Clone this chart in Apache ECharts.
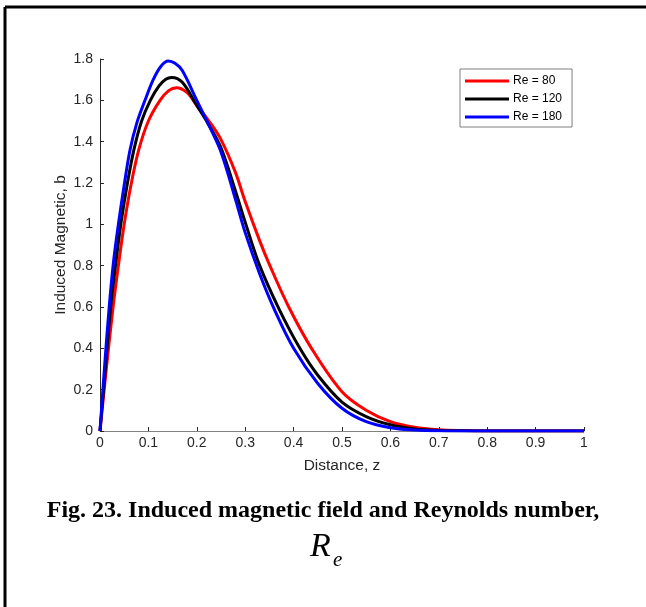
<!DOCTYPE html>
<html><head><meta charset="utf-8">
<script src="https://cdn.jsdelivr.net/npm/echarts@6/dist/echarts.min.js"></script>
<style>html,body{margin:0;padding:0;background:#fff;}#c{width:646px;height:607px;}</style>
</head><body><div id="c"></div>
<script>
const seriesNames = ['Re = 80', 'Re = 120', 'Re = 180'];
const seriesColors = ['#ff0000', '#000000', '#0000ff'];

const zRe80 = [0, 0.013, 0.027, 0.038, 0.05, 0.064, 0.08, 0.1, 0.124, 0.142, 0.158, 0.18, 0.2, 0.225, 0.25, 0.28, 0.3, 0.33, 0.351, 0.39, 0.437, 0.5, 0.55, 0.6, 0.65, 0.7, 0.75, 0.8, 0.9, 1];
const bRe80 = [0, 0.3, 0.6, 0.8, 1.0, 1.19, 1.36, 1.5, 1.6, 1.647, 1.661, 1.637, 1.575, 1.5, 1.41, 1.25, 1.11, 0.92, 0.8, 0.6, 0.4, 0.19, 0.1, 0.045, 0.018, 0.006, 0.002, 0.0005, 0, 0];

const zRe120 = [0, 0.011, 0.022, 0.032, 0.043, 0.056, 0.07, 0.086, 0.104, 0.122, 0.136, 0.148, 0.17, 0.2, 0.225, 0.25, 0.28, 0.3, 0.33, 0.37, 0.413, 0.45, 0.5, 0.55, 0.6, 0.65, 0.7, 0.75, 0.8, 0.9, 1];
const bRe120 = [0, 0.3, 0.6, 0.8, 1.0, 1.19, 1.36, 1.5, 1.6, 1.67, 1.702, 1.711, 1.687, 1.575, 1.48, 1.37, 1.16, 1.01, 0.8, 0.59, 0.4, 0.27, 0.14, 0.07, 0.03, 0.01, 0.003, 0.001, 0, 0, 0];

const zRe180 = [0, 0.01, 0.019, 0.028, 0.038, 0.05, 0.062, 0.076, 0.093, 0.11, 0.126, 0.141, 0.155, 0.17, 0.2, 0.225, 0.25, 0.28, 0.3, 0.33, 0.36, 0.4, 0.45, 0.5, 0.55, 0.6, 0.65, 0.7, 0.8, 0.9, 1];
const bRe180 = [0, 0.33, 0.6, 0.82, 1.0, 1.19, 1.36, 1.49, 1.6, 1.7, 1.765, 1.79, 1.779, 1.744, 1.6, 1.48, 1.35, 1.12, 0.96, 0.76, 0.59, 0.4, 0.23, 0.11, 0.045, 0.016, 0.005, 0.001, 0, 0, 0];

const zSets = [zRe80, zRe120, zRe180];
const bSets = [bRe80, bRe120, bRe180];

const xAxisName = 'Distance, z';
const yAxisName = 'Induced Magnetic, b';
const captionLine1 = 'Fig. 23. Induced magnetic field and Reynolds number,';
const captionR = 'R';
const captionSub = 'e';

const chart = echarts.init(document.getElementById('c'), null, {renderer: 'canvas'});
const labelColor = '#262626';
const fontFam = '"Liberation Sans", Arial, sans-serif';

const series = seriesNames.map((n, i) => ({
  name: n,
  type: 'line',
  data: zSets[i].map((z, j) => [z, bSets[i][j]]),
  smooth: 0.35,
  showSymbol: false,
  symbol: 'none',
  lineStyle: {color: seriesColors[i], width: 3},
  itemStyle: {color: seriesColors[i]},
  z: 2 + i
}));

chart.setOption({
  animation: false,
  backgroundColor: '#fff',
  grid: {left: 100, right: 62, top: 59, bottom: 176, containLabel: false},
  legend: {
    data: seriesNames,
    orient: 'vertical',
    left: 460, top: 69,
    icon: 'rect',
    itemWidth: 44, itemHeight: 3,
    itemGap: 6,
    padding: [6, 10, 4, 5],
    borderColor: '#7f7f7f', borderWidth: 1,
    backgroundColor: '#fff',
    textStyle: {fontFamily: fontFam, fontSize: 12, color: '#000', padding: [0, 0, 0, -1]}
  },
  xAxis: {
    type: 'value', min: 0, max: 1, interval: 0.1,
    name: xAxisName, nameLocation: 'middle', nameGap: 27, nameMoveOverlap: false,
    nameTextStyle: {fontFamily: fontFam, fontSize: 15.5, color: labelColor},
    axisLine: {show: true, onZero: false, lineStyle: {color: '#808080', width: 1}},
    axisTick: {show: true, inside: true, length: 4, lineStyle: {color: '#262626'}},
    axisLabel: {fontFamily: fontFam, fontSize: 14, color: labelColor, margin: 5,
      formatter: v => String(+v.toFixed(1))},
    splitLine: {show: false}
  },
  yAxis: {
    type: 'value', min: 0, max: 1.8, interval: 0.2,
    name: yAxisName, nameLocation: 'middle', nameGap: 31, nameRotate: 90, nameMoveOverlap: false,
    nameTextStyle: {fontFamily: fontFam, fontSize: 15.5, color: labelColor},
    axisLine: {show: true, lineStyle: {color: '#262626', width: 1}},
    axisTick: {show: true, inside: true, length: 4, lineStyle: {color: '#262626'}},
    axisLabel: {fontFamily: fontFam, fontSize: 14, color: labelColor, margin: 7,
      formatter: v => String(+v.toFixed(1))},
    splitLine: {show: false}
  },
  graphic: [
    {type: 'line', shape: {x1: 5, y1: 7, x2: 646, y2: 7}, style: {stroke: '#000', lineWidth: 3}},
    {type: 'line', shape: {x1: 5, y1: 7, x2: 5, y2: 607}, style: {stroke: '#000', lineWidth: 3}},
    {type: 'text', x: 323, y: 511, style: {text: captionLine1, font: 'bold 24px "Liberation Serif", "Times New Roman", serif', fill: '#000', textAlign: 'center', textVerticalAlign: 'middle'}},
    {type: 'text', x: 310, y: 547, style: {text: captionR, font: 'italic 34px "Liberation Serif", "Times New Roman", serif', fill: '#000', textAlign: 'left', textVerticalAlign: 'middle'}},
    {type: 'text', x: 333, y: 560, style: {text: captionSub, font: 'italic 21px "Liberation Serif", "Times New Roman", serif', fill: '#000', textAlign: 'left', textVerticalAlign: 'middle'}}
  ],
  series: series
});
</script></body></html>
